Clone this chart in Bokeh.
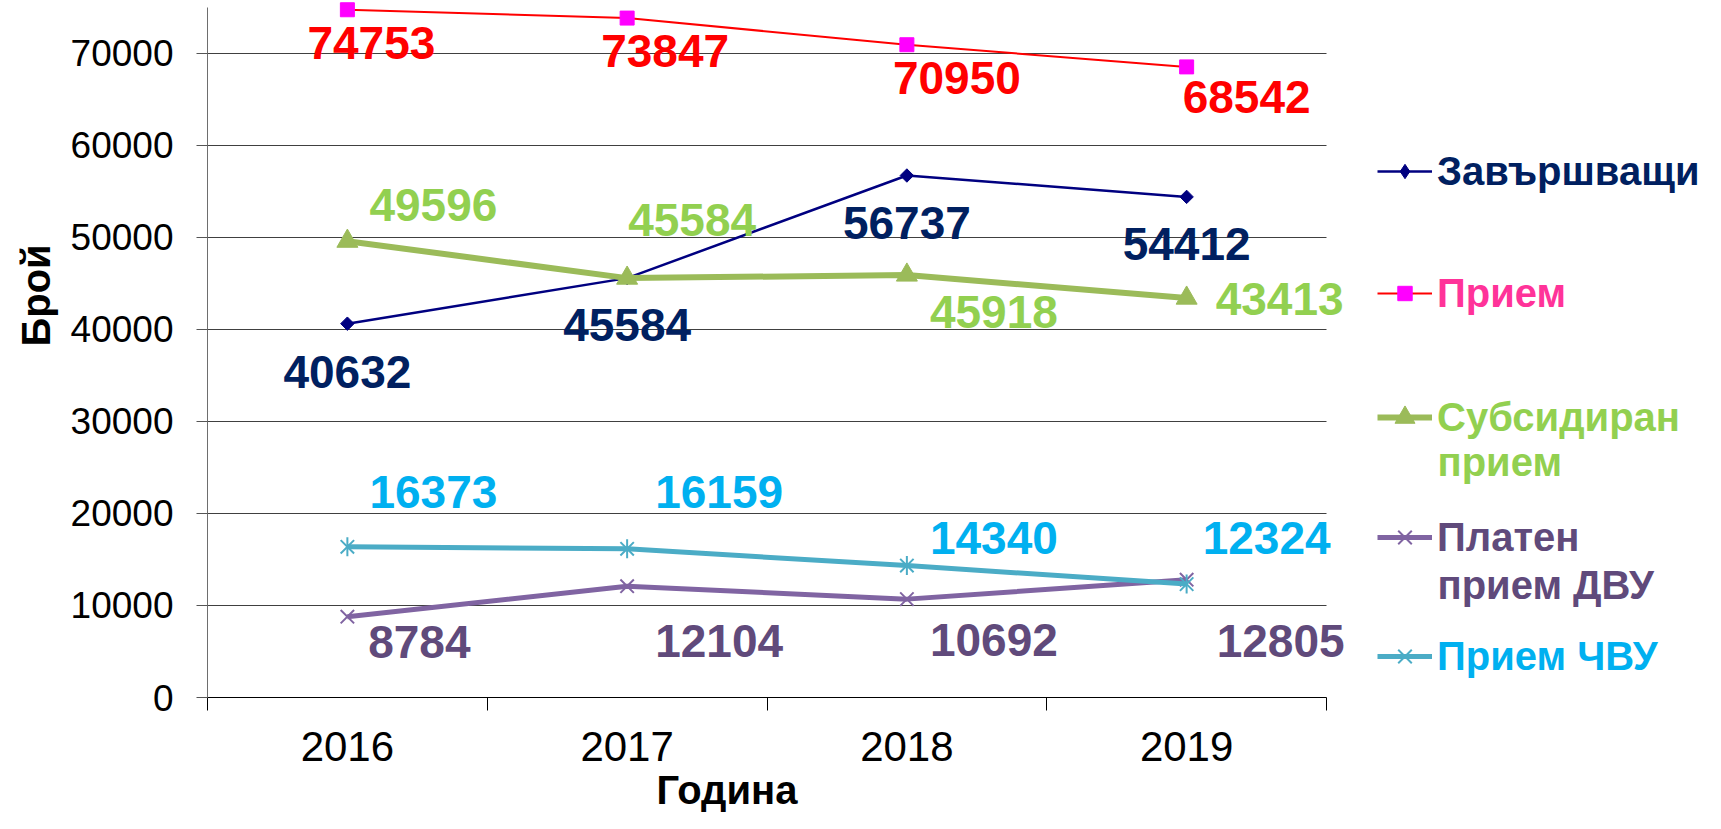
import math
from bokeh.plotting import figure
from bokeh.models import (Range1d, FixedTicker, Legend, LegendItem, Label, LabelSet,
                          ColumnDataSource, Title, Grid)
from bokeh.core.properties import value
from bokeh.embed import file_html
from bokeh.resources import INLINE

# ---------------- data ----------------
years = ["2016", "2017", "2018", "2019"]
zavarshvashti = [40632, 45584, 56737, 54412]
priem = [74753, 73847, 70950, 68542]
subsidiran = [49596, 45584, 45918, 43413]
platen_dvu = [8784, 12104, 10692, 12805]
priem_chvu = [16373, 16159, 14340, 12324]
y_ticks = [0, 10000, 20000, 30000, 40000, 50000, 60000, 70000]

names = ["Завършващи", "Прием", "Субсидиран прием", "Платен прием ДВУ", "Прием ЧВУ"]
x_title = "Година"
y_title = "Брой"

# ---------------- label placement (screen px, dy downwards) ----------------
off_zav = ([0, 0, 0, 0], [48, 47, 47, 47])
off_pri = ([24, 38, 50, 60], [33, 33, 33, 30])
off_sub = ([86, 65, 87, 93], [-36, -58, 37, 1])
off_dvu = ([72, 92, 87, 94], [25, 55, 41, 61])
off_chvu = ([86, 92, 87, 80], [-55, -57, -28, -46])

FONT = "Liberation Sans"
n = len(years)
xs = [i + 0.5 for i in range(n)]

W, H = 1705, 813
LEFT, TOP, BOTTOM = 207, 1, 115
PITCH = 279.75                     # px per category
x_end = (W - LEFT) / PITCH         # frame reaches the right edge (legend lives there)

p = figure(width=W, height=H, x_range=Range1d(0, x_end), y_range=Range1d(0, 75650),
           output_backend="svg", toolbar_location=None,
           min_border_left=LEFT, min_border_right=0, min_border_top=TOP,
           min_border_bottom=BOTTOM)
p.outline_line_color = None
p.background_fill_color = "white"
p.border_fill_color = "white"

# axes
p.xaxis.bounds = (0, n)
p.xaxis.ticker = FixedTicker(ticks=xs, minor_ticks=list(range(n + 1)))
p.xaxis.major_label_overrides = {x: y for x, y in zip(xs, years)}
p.xaxis.major_tick_line_color = None
p.xaxis.minor_tick_out = 13
p.xaxis.minor_tick_in = 0
p.xaxis.minor_tick_line_color = "black"
p.xaxis.axis_line_color = "black"
p.xaxis.major_label_text_font = FONT
p.xaxis.major_label_text_font_size = "42px"
p.xaxis.major_label_text_color = "black"
p.xaxis.major_label_standoff = 21

p.yaxis.ticker = FixedTicker(ticks=y_ticks)
p.yaxis.bounds = (0, 75000)
p.yaxis.major_tick_out = 11
p.yaxis.major_tick_in = 0
p.yaxis.minor_tick_line_color = None
p.yaxis.major_tick_line_color = "#555555"
p.yaxis.axis_line_color = "#6e6e6e"
p.yaxis.major_label_text_font = FONT
p.yaxis.major_label_text_font_size = "37px"
p.yaxis.major_label_text_color = "black"
p.yaxis.major_label_standoff = 23

p.xgrid.visible = False
if "cross_bounds" in Grid.properties():
    p.ygrid.ticker = FixedTicker(ticks=y_ticks)
    p.ygrid.grid_line_color = "#404040"
    p.ygrid.grid_line_width = 1
    p.ygrid.cross_bounds = (0, n)
else:
    p.ygrid.visible = False
    gy = y_ticks[1:]
    p.segment(x0=[0] * len(gy), x1=[n] * len(gy), y0=gy, y1=gy,
              line_color="#404040", line_width=1)

# series
r_zav_l = p.line(xs, zavarshvashti, line_color="#000080", line_width=2.5)
r_zav_m = p.scatter(xs, zavarshvashti, marker="square", angle=math.pi / 4, size=9.5,
                    fill_color="#000080", line_color="#000080")
# diamond used only for the legend swatch (zero size in the plot)
r_zav_leg = p.scatter(xs, zavarshvashti, marker="diamond", size=0,
                      fill_color="#000080", line_color="#000080")
r_pri_l = p.line(xs, priem, line_color="#FF0000", line_width=2)
r_pri_m = p.scatter(xs, priem, marker="square", size=14, fill_color="#FF00FF", line_color="#FF00FF")
r_sub_l = p.line(xs, subsidiran, line_color="#9BBB59", line_width=6)
r_sub_m = p.scatter(xs, subsidiran, marker="triangle", size=21, fill_color="#9BBB59",
                    line_color="#9BBB59")
r_dvu_l = p.line(xs, platen_dvu, line_color="#8064A2", line_width=5)
r_dvu_m = p.scatter(xs, platen_dvu, marker="x", size=19, line_color="#8064A2", line_width=2)
r_chvu_l = p.line(xs, priem_chvu, line_color="#4BACC6", line_width=5)
r_chvu_m = p.scatter(xs, priem_chvu, marker="x", size=19, line_color="#4BACC6", line_width=2)
r_chvu_m2 = p.scatter(xs, priem_chvu, marker="dash", angle=math.pi / 2, size=19,
                      line_color="#4BACC6", line_width=2)

# data labels
def add_labels(vals, offs, color):
    src = ColumnDataSource(dict(x=xs, y=vals, text=[str(v) for v in vals],
                                dx=offs[0], dy=[-d for d in offs[1]]))
    p.add_layout(LabelSet(x="x", y="y", text="text", x_offset="dx", y_offset="dy", source=src,
                          text_align="center", text_baseline="middle", text_font=value(FONT),
                          text_font_size=value("46px"), text_font_style=value("bold"),
                          text_color=value(color)))

add_labels(zavarshvashti, off_zav, "#002060")
add_labels(priem, off_pri, "#FF0000")
add_labels(subsidiran, off_sub, "#92D050")
add_labels(platen_dvu, off_dvu, "#604A7B")
add_labels(priem_chvu, off_chvu, "#00B0F0")

# legends (one per entry, so every label can have its own colour)
LEG_X = 1170
def add_legend(label, color, renderers, vy, gh):
    leg = Legend(items=[LegendItem(label=label, renderers=renderers)], location=(LEG_X, vy),
                 glyph_width=55, glyph_height=gh, label_height=50, label_standoff=5,
                 padding=0, margin=0, spacing=0, border_line_color=None,
                 background_fill_alpha=0, label_text_color=color, label_text_font=FONT,
                 label_text_font_size="40px", label_text_font_style="bold")
    p.add_layout(leg)

def add_text(text, x, y, color, size):
    p.add_layout(Label(x=x, y=y, x_units="screen", y_units="screen", text=text,
                       text_align="left", text_baseline="middle", text_font=FONT,
                       text_font_size=size, text_font_style="bold", text_color=color))

first_sub, second_sub = names[2].split(" ", 1)
first_dvu, second_dvu = names[3].split(" ", 1)
add_legend(names[0], "#002060", [r_zav_l, r_zav_leg], 501, 36)
add_legend(names[1], "#FF3399", [r_pri_l, r_pri_m], 379, 36)
add_legend(first_sub, "#92D050", [r_sub_l, r_sub_m], 255, 50)
add_text(second_sub, LEG_X + 60, 236, "#92D050", "40px")
add_legend(first_dvu, "#604A7B", [r_dvu_l, r_dvu_m], 135, 48)
add_text(second_dvu, LEG_X + 60, 113, "#604A7B", "40px")
add_legend(names[4], "#00B0F0", [r_chvu_l, r_chvu_m, r_chvu_m2], 16, 48)

# axis titles
has_standoff = "standoff" in Title.properties()
ty = Title(text=y_title, align="left", offset=351, text_font=FONT,
           text_font_size="40px", text_font_style="bold", text_color="black")
tx = Title(text=x_title, align="left", offset=449, text_font=FONT,
           text_font_size="40px", text_font_style="bold", text_color="black")
if has_standoff:
    ty.standoff = 19
    tx.standoff = 4
p.add_layout(ty, "left")
p.add_layout(tx, "below")

open("out.html", "w").write(file_html(p, INLINE))
